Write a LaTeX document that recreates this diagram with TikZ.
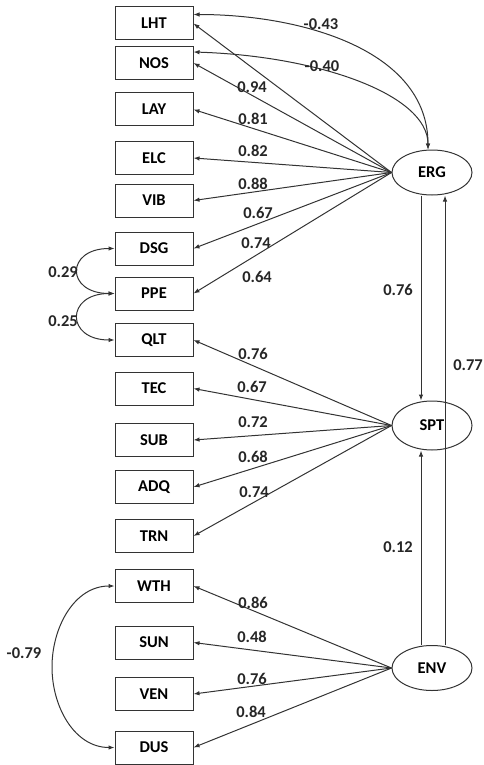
\documentclass[tikz,border=0pt]{standalone}
\usepackage{fontspec}
\setmainfont{Carlito}
\usetikzlibrary{arrows.meta,shapes.geometric}
\begin{document}
\begin{tikzpicture}[x=1pt,y=-1pt,
  font=\fontsize{16.5}{19}\selectfont\bfseries,
  obs/.style={draw=black!80, line width=1pt, minimum width=78pt, minimum height=33pt, inner sep=0pt},
  lat/.style={draw=black!80, ellipse, line width=1pt, minimum width=80pt, minimum height=45pt, inner sep=0pt},
  arr/.style={-{Latex[length=6pt,width=4.5pt]}, line width=1pt, draw=black!80},
  biarr/.style={{Latex[length=6pt,width=4.5pt]}-{Latex[length=6pt,width=4.5pt]}, line width=1pt, draw=black!80},
  lbl/.style={inner sep=0pt, text=black!85}]
\useasboundingbox (0,0) rectangle (483,765);
% observed variables
\node[obs] (LHT) at (154,23.5) {LHT};
\node[obs] (NOS) at (154,63) {NOS};
\node[obs] (LAY) at (154,109.5) {LAY};
\node[obs] (ELC) at (154,158) {ELC};
\node[obs] (VIB) at (154,200.5) {VIB};
\node[obs] (DSG) at (154,248.5) {DSG};
\node[obs] (PPE) at (154,293.5) {PPE};
\node[obs] (QLT) at (154,340) {QLT};
\node[obs] (TEC) at (154,388.5) {TEC};
\node[obs] (SUB) at (154,440) {SUB};
\node[obs] (ADQ) at (154,487) {ADQ};
\node[obs] (TRN) at (154,536) {TRN};
\node[obs] (WTH) at (154,586) {WTH};
\node[obs] (SUN) at (154,642.5) {SUN};
\node[obs] (VEN) at (154,694) {VEN};
\node[obs] (DUS) at (154,747.5) {DUS};
% latent variables
\node[lat] (ERG) at (432,172.5) {ERG};
\node[lat, minimum height=49pt] (SPT) at (432,425.5) {SPT};
\node[lat] (ENV) at (432,668) {ENV};
% loadings
\foreach \b in {LHT,NOS,LAY,ELC,VIB,DSG,PPE}
  \draw[arr] (ERG.west) -- (\b.east);
\foreach \b in {QLT,TEC,SUB,ADQ,TRN}
  \draw[arr] (SPT.west) -- (\b.east);
\foreach \b in {WTH,SUN,VEN,DUS}
  \draw[arr] (ENV.west) -- (\b.east);
% correlations ERG
\draw[biarr] ([yshift=9pt]LHT.east) .. controls +(107,0) and +(0,-100) .. ([xshift=-4pt]ERG.north);
\draw[biarr] ([yshift=11pt]NOS.east) .. controls +(125,4) and +(0,-55) .. ([xshift=-4pt]ERG.north);
% structural paths
\draw[arr] ([xshift=-11pt]ERG.south) -- ([xshift=-11pt]SPT.north);
\draw[arr] ([xshift=-11pt]ENV.north) -- ([xshift=-11pt]SPT.south);
\draw[arr] ([xshift=13pt]ENV.north) -- ([xshift=13pt]ERG.south);
% error covariances
\draw[biarr] (DSG.west) .. controls +(-49,0) and +(-49,0) .. (PPE.west);
\draw[biarr] (PPE.west) .. controls +(-49,0) and +(-49,0) .. (QLT.west);
\coordinate (wd) at (52,667);
\draw[biarr] (WTH.west) to[out=180,in=90] (wd) to[out=-90,in=180] (DUS.west);
% labels
\node[lbl] (l1) at (321,24) {-0.43};
\node[lbl] (l2) at (322,66) {-0.40};
\node[lbl] (l3) at (252,87) {0.94};
\node[lbl] (l4) at (253,119) {0.81};
\node[lbl] (l5) at (253,151) {0.82};
\node[lbl] (l6) at (253,184) {0.88};
\node[lbl] (l7) at (258,213) {0.67};
\node[lbl] (l8) at (256,243) {0.74};
\node[lbl] (l9) at (257,277) {0.64};
\node[lbl] (l10) at (253,354) {0.76};
\node[lbl] (l11) at (252,387) {0.67};
\node[lbl] (l12) at (253,422) {0.72};
\node[lbl] (l13) at (253,457) {0.68};
\node[lbl] (l14) at (254,492) {0.74};
\node[lbl] (l15) at (253,603) {0.86};
\node[lbl] (l16) at (252,637) {0.48};
\node[lbl] (l17) at (252,679) {0.76};
\node[lbl] (l18) at (251,712) {0.84};
\node[lbl] (l19) at (398,290) {0.76};
\node[lbl] (l20) at (468,365) {0.77};
\node[lbl] (l21) at (398,547) {0.12};
\node[lbl] (l22) at (63,272) {0.29};
\node[lbl] (l23) at (63,321) {0.25};
\node[lbl] (l24) at (24,653) {-0.79};
\end{tikzpicture}
\end{document}
